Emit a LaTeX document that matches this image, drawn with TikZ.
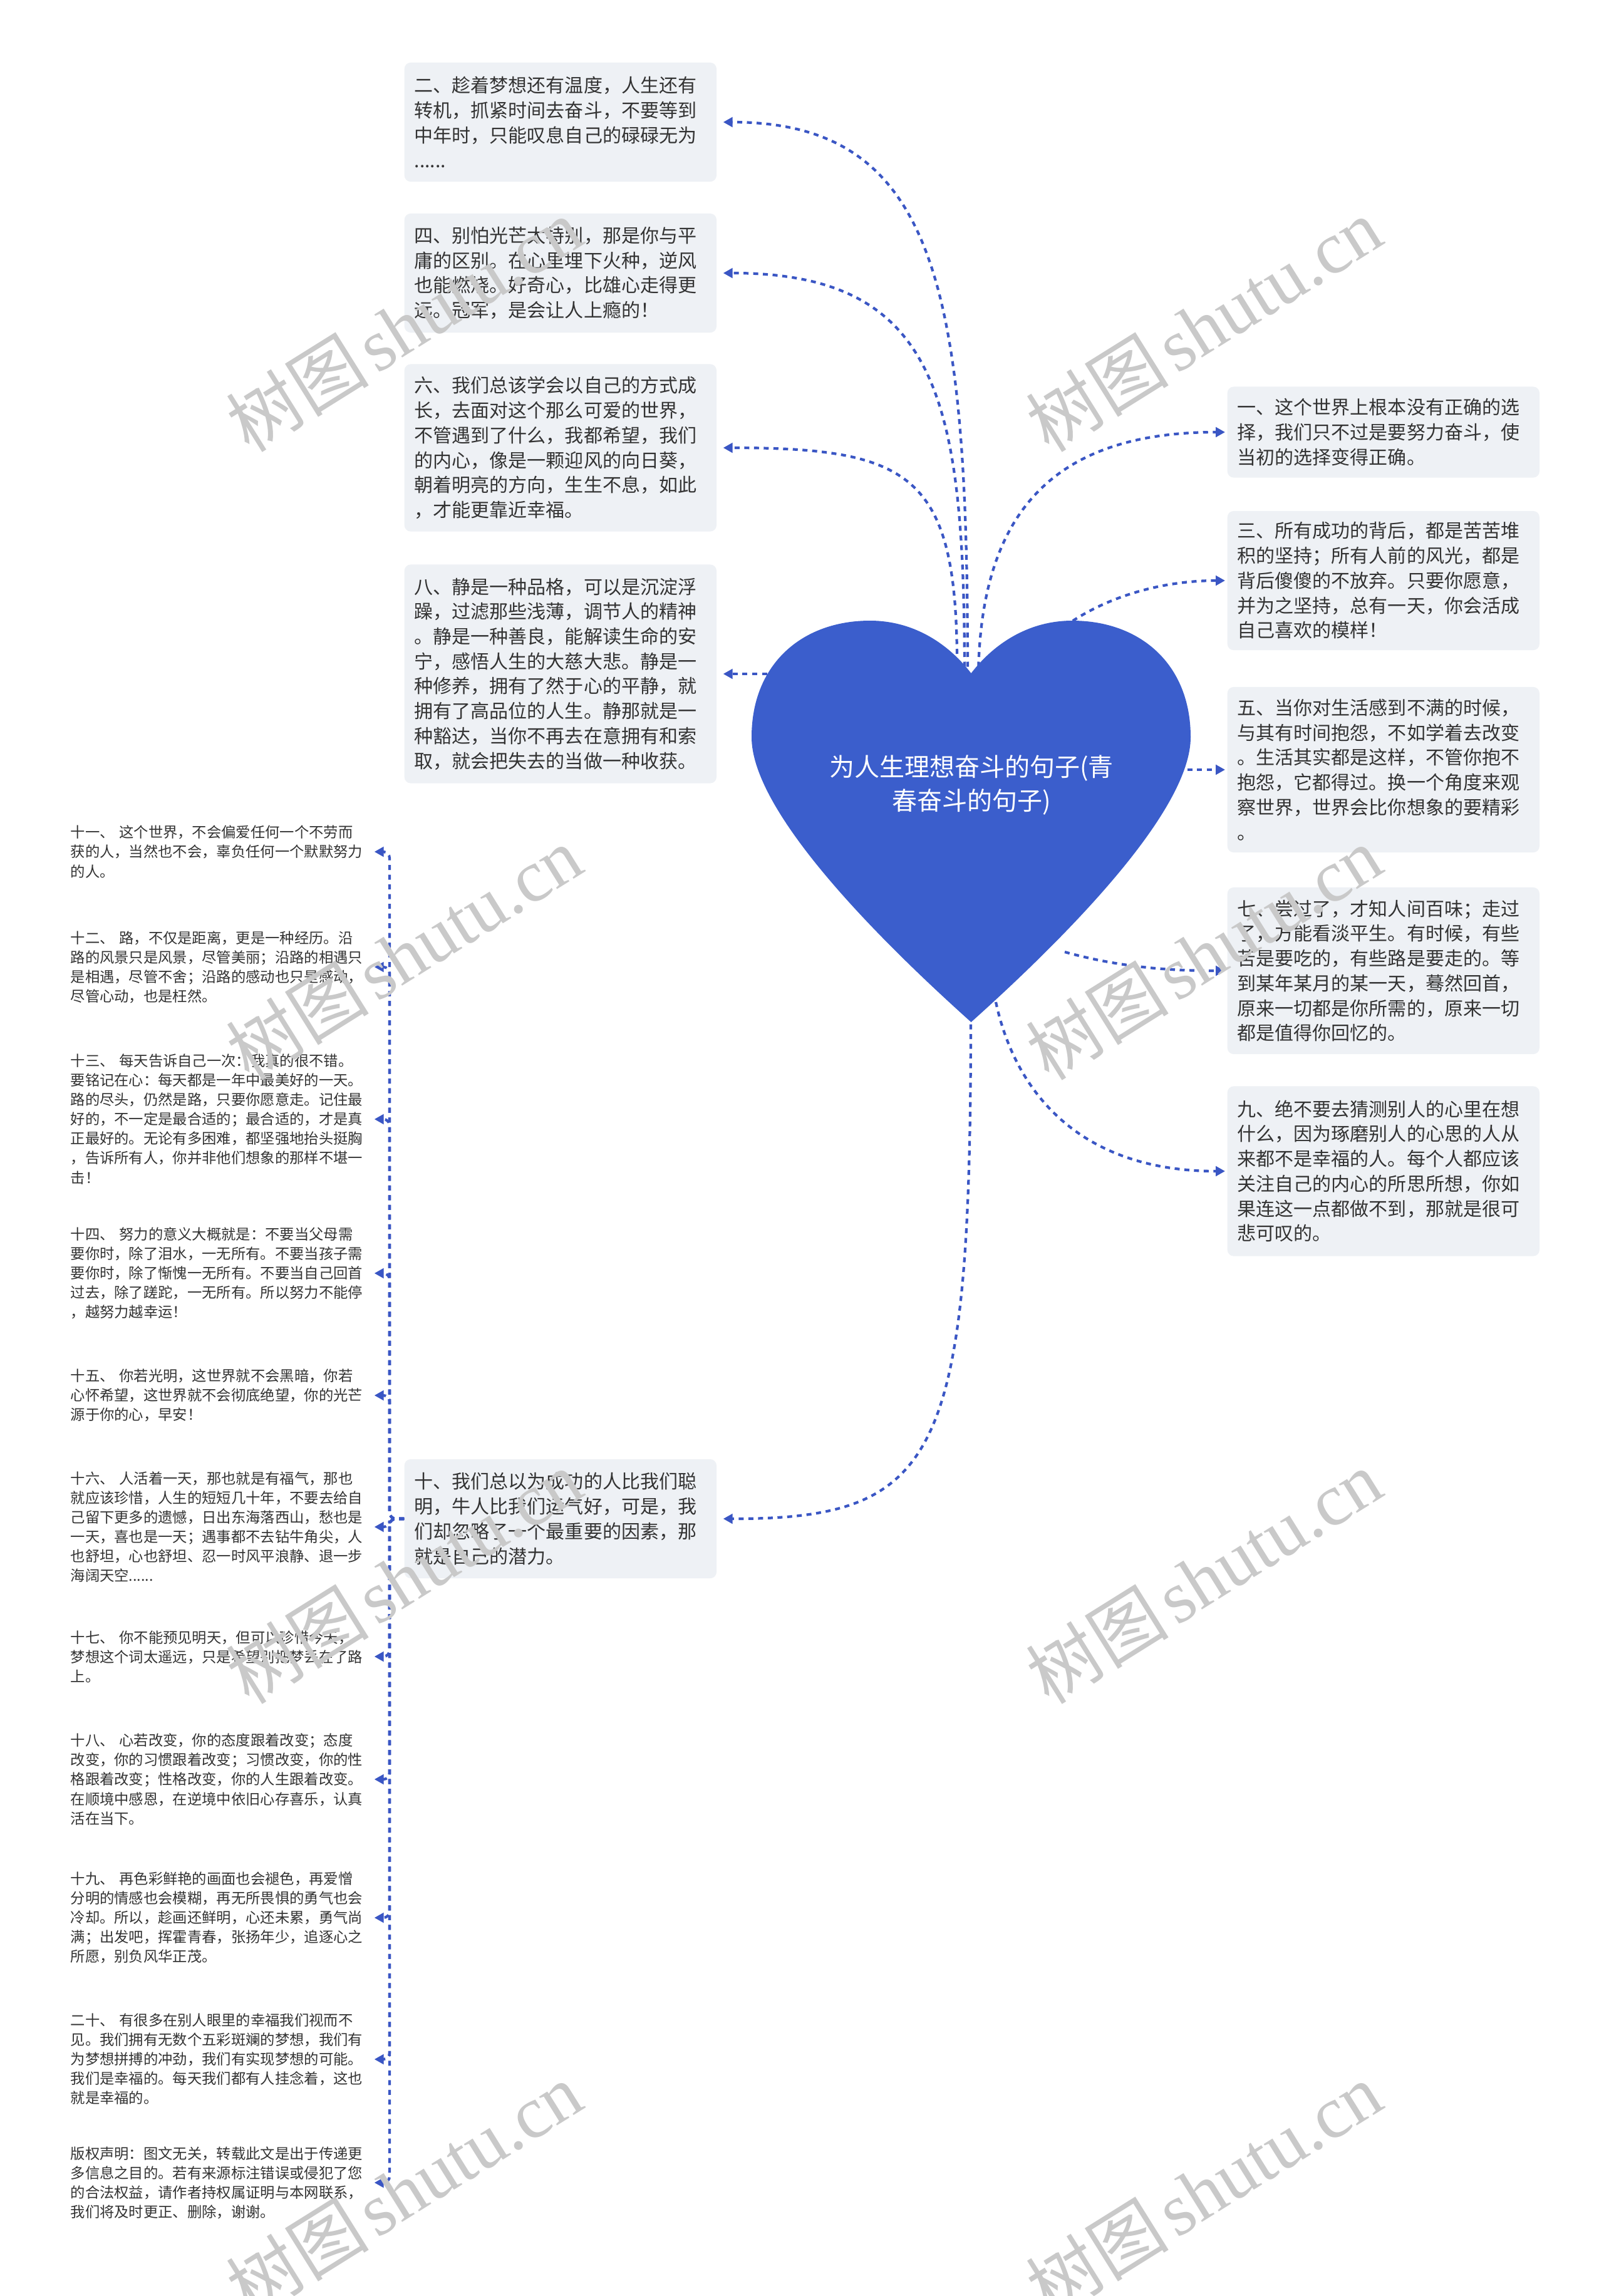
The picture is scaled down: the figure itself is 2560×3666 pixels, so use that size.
\documentclass[tikz,border=0pt]{standalone}
\usepackage{fontspec}
\newfontfamily\cjk{Noto Sans CJK SC}
\newfontfamily\wmserif{Liberation Serif}
\usetikzlibrary{arrows.meta}
\definecolor{heartblue}{HTML}{3B5ECC}
\definecolor{linkblue}{HTML}{3A56C4}
\definecolor{boxfill}{HTML}{EEF1F5}
\definecolor{txt}{HTML}{333333}
\begin{document}
\begin{tikzpicture}[x=0.01cm, y=-0.01cm,
  box/.style={fill=boxfill, rounded corners=0.1cm, inner xsep=0.16cm, inner ysep=0.1cm,
    text width=4.66cm, align=left, anchor=west, text=txt,
    font=\cjk\fontsize{8.54pt}{11.3pt}\selectfont},
  leaf/.style={inner sep=0pt, text width=4.84cm, align=left, anchor=west, text=txt,
    font=\cjk\fontsize{6.63pt}{8.82pt}\selectfont},
  title/.style={inner sep=0pt, align=center, text=white,
    font=\cjk\fontsize{11.38pt}{15.36pt}\selectfont},
  link/.style={draw=linkblue, line width=0.042cm, dash pattern=on 0.08cm off 0.075cm,
    -{Triangle[length=0.15cm,width=0.155cm]}},
  wmark/.style={text=black!21, rotate=32, inner sep=0pt}]
\useasboundingbox (0,0) rectangle (2560,3666);
\fill[white] (0,0) rectangle (2560,3666);

% ---- nodes: boxes ----
\node[box, minimum height=1.90cm] (b2) at (645,195) {二、趁着梦想还有温度，人生还有\\转机，抓紧时间去奋斗，不要等到\\中年时，只能叹息自己的碌碌无为\\......};
\node[box, minimum height=1.90cm] (b4) at (645,436) {四、别怕光芒太特别，那是你与平\\庸的区别。在心里埋下火种，逆风\\也能燃烧。好奇心，比雄心走得更\\远。冠军，是会让人上瘾的！};
\node[box, minimum height=2.67cm] (b6) at (645,715) {六、我们总该学会以自己的方式成\\长，去面对这个那么可爱的世界，\\不管遇到了什么，我都希望，我们\\的内心，像是一颗迎风的向日葵，\\朝着明亮的方向，生生不息，如此\\，才能更靠近幸福。};
\node[box, minimum height=3.49cm] (b8) at (645,1076) {八、静是一种品格，可以是沉淀浮\\躁，过滤那些浅薄，调节人的精神\\。静是一种善良，能解读生命的安\\宁，感悟人生的大慈大悲。静是一\\种修养，拥有了然于心的平静，就\\拥有了高品位的人生。静那就是一\\种豁达，当你不再去在意拥有和索\\取，就会把失去的当做一种收获。};
\node[box, minimum height=1.90cm] (b10) at (645,2425) {十、我们总以为成功的人比我们聪\\明，牛人比我们运气好，可是，我\\们却忽略了一个最重要的因素，那\\就是自己的潜力。};

\node[box, minimum height=1.45cm] (b1) at (1959,690) {一、这个世界上根本没有正确的选\\择，我们只不过是要努力奋斗，使\\当初的选择变得正确。};
\node[box, minimum height=2.22cm] (b3) at (1959,927) {三、所有成功的背后，都是苦苦堆\\积的坚持；所有人前的风光，都是\\背后傻傻的不放弃。只要你愿意，\\并为之坚持，总有一天，你会活成\\自己喜欢的模样！};
\node[box, minimum height=2.64cm] (b5) at (1959,1229) {五、当你对生活感到不满的时候，\\与其有时间抱怨，不如学着去改变\\。生活其实都是这样，不管你抱不\\抱怨，它都得过。换一个角度来观\\察世界，世界会比你想象的要精彩\\。};
\node[box, minimum height=2.66cm] (b7) at (1959,1550) {七、尝过了，才知人间百味；走过\\了，方能看淡平生。有时候，有些\\苦是要吃的，有些路是要走的。等\\到某年某月的某一天，蓦然回首，\\原来一切都是你所需的，原来一切\\都是值得你回忆的。};
\node[box, minimum height=2.71cm] (b9) at (1959,1870) {九、绝不要去猜测别人的心里在想\\什么，因为琢磨别人的心思的人从\\来都不是幸福的人。每个人都应该\\关注自己的内心的所思所想，你如\\果连这一点都做不到，那就是很可\\悲可叹的。};

% ---- leaves ----
\node[leaf] (c11) at (112,1360) {十一、 这个世界，不会偏爱任何一个不劳而\\获的人，当然也不会，辜负任何一个默默努力\\的人。};
\node[leaf] (c12) at (112,1544) {十二、 路，不仅是距离，更是一种经历。沿\\路的风景只是风景，尽管美丽；沿路的相遇只\\是相遇，尽管不舍；沿路的感动也只是感动，\\尽管心动，也是枉然。};
\node[leaf] (c13) at (112,1787) {十三、 每天告诉自己一次：我真的很不错。\\要铭记在心：每天都是一年中最美好的一天。\\路的尽头，仍然是路，只要你愿意走。记住最\\好的，不一定是最合适的；最合适的，才是真\\正最好的。无论有多困难，都坚强地抬头挺胸\\，告诉所有人，你并非他们想象的那样不堪一\\击！};
\node[leaf] (c14) at (112,2033) {十四、 努力的意义大概就是：不要当父母需\\要你时，除了泪水，一无所有。不要当孩子需\\要你时，除了惭愧一无所有。不要当自己回首\\过去，除了蹉跎，一无所有。所以努力不能停\\，越努力越幸运！};
\node[leaf] (c15) at (112,2228) {十五、 你若光明，这世界就不会黑暗，你若\\心怀希望，这世界就不会彻底绝望，你的光芒\\源于你的心，早安！};
\node[leaf] (c16) at (112,2438) {十六、 人活着一天，那也就是有福气，那也\\就应该珍惜，人生的短短几十年，不要去给自\\己留下更多的遗憾，日出东海落西山，愁也是\\一天，喜也是一天；遇事都不去钻牛角尖，人\\也舒坦，心也舒坦、忍一时风平浪静、退一步\\海阔天空......};
\node[leaf] (c17) at (112,2645) {十七、 你不能预见明天，但可以珍惜今天，\\梦想这个词太遥远，只是希望别把梦丢在了路\\上。};
\node[leaf] (c18) at (112,2841) {十八、 心若改变，你的态度跟着改变；态度\\改变，你的习惯跟着改变；习惯改变，你的性\\格跟着改变；性格改变，你的人生跟着改变。\\在顺境中感恩，在逆境中依旧心存喜乐，认真\\活在当下。};
\node[leaf] (c19) at (112,3062) {十九、 再色彩鲜艳的画面也会褪色，再爱憎\\分明的情感也会模糊，再无所畏惧的勇气也会\\冷却。所以，趁画还鲜明，心还未累，勇气尚\\满；出发吧，挥霍青春，张扬年少，追逐心之\\所愿，别负风华正茂。};
\node[leaf] (c20) at (112,3288) {二十、 有很多在别人眼里的幸福我们视而不\\见。我们拥有无数个五彩斑斓的梦想，我们有\\为梦想拼搏的冲劲，我们有实现梦想的可能。\\我们是幸福的。每天我们都有人挂念着，这也\\就是幸福的。};
\node[leaf] (c21) at (112,3485) {版权声明：图文无关，转载此文是出于传递更\\多信息之目的。若有来源标注错误或侵犯了您\\的合法权益，请作者持权属证明与本网联系，\\我们将及时更正、删除，谢谢。};

% ---- connector start points on the heart ----
\coordinate (s2) at (1545,1080);
\coordinate (s4) at (1540,1080);
\coordinate (s6) at (1528,1075);
\coordinate (s8) at (1240,1076);
\coordinate (s1) at (1562,1080);
\coordinate (s3) at (1700,1000);
\coordinate (s5) at (1880,1229);
\coordinate (s7) at (1700,1520);
\coordinate (s9) at (1590,1600);
\coordinate (s10) at (1550,1620);
\coordinate (spine) at (622,2425);

% ---- connectors ----
\draw[link, shorten >=0.1cm] (s2) .. controls (1545,470) and (1500,195) .. (b2.east);
\draw[link, shorten >=0.1cm] (s4) .. controls (1540,640) and (1500,436) .. (b4.east);
\draw[link, shorten >=0.1cm] (s6) .. controls (1530,760) and (1460,715) .. (b6.east);
\draw[link, shorten >=0.1cm] (s8) -- (b8.east);
\draw[link, shorten >=0.03cm] (s1) .. controls (1565,820) and (1680,690) .. (b1.west);
\draw[link, shorten >=0.03cm] (s3) .. controls (1770,950) and (1860,927) .. (b3.west);
\draw[link, shorten >=0.03cm] (s5) -- (b5.west);
\draw[link, shorten >=0.03cm] (s7) .. controls (1790,1545) and (1870,1550) .. (b7.west);
\draw[link, shorten >=0.03cm] (s9) .. controls (1620,1740) and (1720,1870) .. (b9.west);
\draw[link, shorten >=0.1cm] (s10) .. controls (1550,2330) and (1500,2425) .. (b10.east);

\foreach \c in {c11,c12,c13,c14,c15,c16,c17,c18,c19,c20,c21}{
  \draw[link, rounded corners=0.1cm] (b10.west) -- (spine) -- (spine |- \c.east) -- (\c.east);
}

% ---- heart (root) ----
\fill[heartblue] (1550.5,1075)
  .. controls (1585,1030) and (1640,991) .. (1712,991)
  .. controls (1820,991) and (1901,1060) .. (1901,1177)
  .. controls (1901,1290) and (1720,1480) .. (1550.5,1632)
  .. controls (1381,1480) and (1200,1290) .. (1200,1177)
  .. controls (1200,1060) and (1281,991) .. (1389,991)
  .. controls (1461,991) and (1516,1030) .. (1550.5,1075) -- cycle;
\node[title] (root) at (1551,1254) {为人生理想奋斗的句子(青\\春奋斗的句子)};

% ---- watermarks ----
\foreach \wx/\wy [count=\i] in {645/519, 1922/519, 645/1522, 1922/1522, 645/2518, 1922/2518, 645/3496, 1922/3496}{
  \node[wmark] (wm\i) at (\wx,\wy) {{\cjk\fontsize{32.5pt}{32.5pt}\selectfont 树图} {\wmserif\fontsize{33.5pt}{33.5pt}\selectfont shutu.cn}};
}
\end{tikzpicture}
\end{document}
